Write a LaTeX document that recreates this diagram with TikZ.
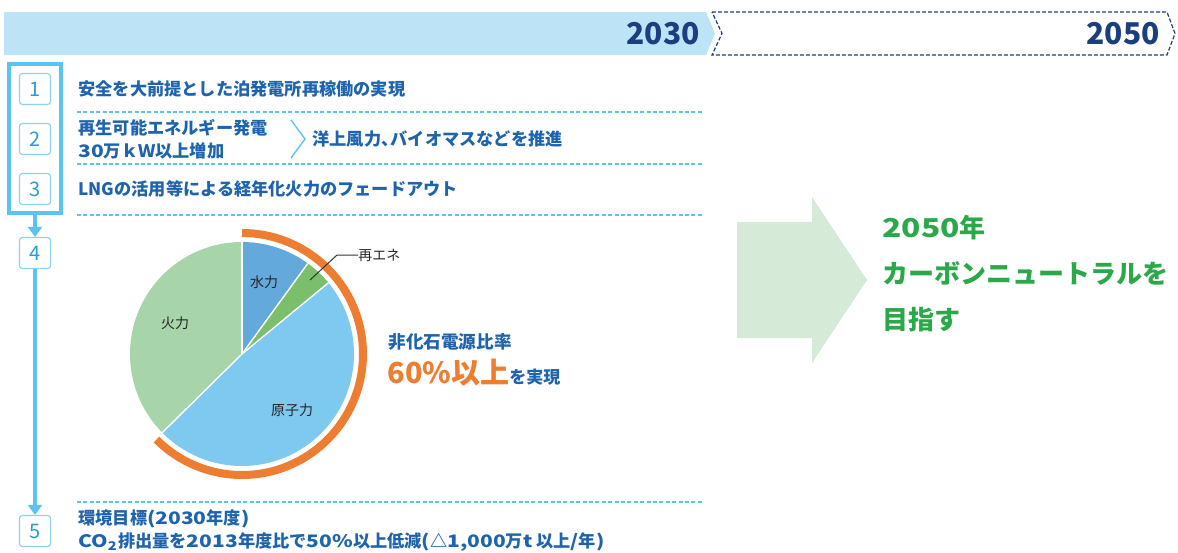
\documentclass[tikz,border=0pt]{standalone}
\usepackage{fontspec}
\usepackage{graphicx}
\setmainfont{Noto Sans CJK JP}
\newcommand\latn[1]{\scalebox{1.22}[1]{#1}}
\usetikzlibrary{arrows.meta}
\definecolor{barblue}{HTML}{BDE3F7}
\definecolor{navy}{HTML}{1B3F7E}
\definecolor{framecol}{HTML}{5BC3F0}
\definecolor{boxline}{HTML}{8ED2F4}
\definecolor{numblue}{HTML}{2A9BD8}
\definecolor{txtblue}{HTML}{1E63AD}
\definecolor{orng}{HTML}{ED7D31}
\definecolor{hydro}{HTML}{64A9DB}
\definecolor{renew}{HTML}{7BBE6C}
\definecolor{nuclear}{HTML}{7EC9F0}
\definecolor{thermal}{HTML}{A8D4AA}
\definecolor{arrgreen}{HTML}{D6EBD7}
\definecolor{goalgreen}{HTML}{2BA84A}

\begin{document}
\begin{tikzpicture}[x=0.5pt,y=-0.5pt,
  yr/.style={font=\fontsize{15}{16}\selectfont\bfseries, text=navy, inner sep=0pt, anchor=east},
  numbox/.style={draw=boxline, line width=0.6pt, fill=white, rounded corners=1.5pt, minimum width=15.5pt, minimum height=15.5pt, inner sep=0pt, text=numblue, font=\fontsize{10}{10}\selectfont},
  item/.style={font=\fontsize{8.6}{11.5}\selectfont\bfseries, text=txtblue, inner sep=0pt, anchor=west, align=left},
  sep/.style={draw=framecol, line width=0.6pt, dash pattern=on 2pt off 1.2pt},
  link/.style={draw=framecol, line width=2pt, -{Triangle[width=7pt,length=5pt]}},
  slice/.style={draw=white, line width=0.7pt},
  plabel/.style={font=\fontsize{7}{8}\selectfont, text=black!85, inner sep=0pt},
]
\useasboundingbox (0,0) rectangle (1178,552);

\fill[barblue] (4,12) -- (706,12) -- (715,33.5) -- (706,55) -- (4,55) -- cycle;
\draw[navy, line width=0.6pt, dash pattern=on 2pt off 1pt] (712,12) -- (1167,12) -- (1175,33.5) -- (1167,55) -- (712,55) -- (722,33.5) -- cycle;
\node[yr] (y2030) at (700,34) {2030};
\node[yr] (y2050) at (1160,34) {2050};

\draw[framecol, line width=2pt] (8.5,63.5) rectangle (60.5,213);
\coordinate (frameout) at (35,213);
\node[numbox] (n1) at (35,89) {1};
\node[numbox] (n2) at (35,139) {2};
\node[numbox] (n3) at (35,189) {3};
\node[numbox] (n4) at (35,253) {4};
\node[numbox] (n5) at (35,531) {5};
\draw[link] (frameout) -- (n4.north);
\draw[link] (n4.south) -- (n5.north);

\draw[sep] (77,112) -- (703,112);
\draw[sep] (77,164) -- (703,164);
\draw[sep] (77,215) -- (703,215);
\draw[sep] (77,502) -- (703,502);

\node[item] (t1) at (78,89) {安全を大前提とした泊発電所再稼働の実現};
\node[item] (t2) at (78,139) {再生可能エネルギー発電\\\latn{30}万ｋＷ以上増加};
\draw[framecol, line width=0.7pt] (291,120) -- (305,139) -- (291,158);
\node[item] (t2b) at (312,139) {洋上風力、\kern-0.45em バイオマスなどを推進};
\node[item] (t3) at (78,189) {LNGの活用等による経年化火力のフェードアウト};
\node[item] (t5) at (78,531) {環境目標\latn{(2030}年度\latn{)}\\\latn{CO\textsubscript{2}}排出量を\latn{2013}年度比で\latn{50\%}以上低減\latn{(}△\latn{1,000}万\latn{t} 以上\latn{/}年\latn{)}};

\coordinate (pc) at (242,354);
\fill[hydro] (pc) -- ++(90:56pt) arc[start angle=90, end angle=54, radius=56pt] -- cycle;
\fill[renew] (pc) -- ++(54:56pt) arc[start angle=54, end angle=39.5, radius=56pt] -- cycle;
\fill[nuclear] (pc) -- ++(39.5:56pt) arc[start angle=39.5, end angle=-135.4, radius=56pt] -- cycle;
\fill[thermal] (pc) -- ++(90:56pt) arc[start angle=90, end angle=224.6, radius=56pt] -- cycle;
\draw[slice] (pc) -- ++(90:56pt);
\draw[slice] (pc) -- ++(54:56pt);
\draw[slice] (pc) -- ++(39.5:56pt);
\draw[slice] (pc) -- ++(224.6:56pt);
\draw[orng, line width=4pt] ([shift={(90:60.5pt)}]pc) arc[start angle=90, end angle=-135, radius=60.5pt];

\node[plabel] (lhydro) at (264,282) {水力};
\node[plabel] (lthermal) at (175,323) {火力};
\node[plabel] (lnuclear) at (292,410) {原子力};
\node[plabel, anchor=west] (lrenew) at (358,255) {再エネ};
\coordinate (rpt) at (310,280);
\draw[black!80, line width=0.5pt] (rpt) -- (337,255) -- (lrenew.west);

\node[item, font=\fontsize{8.8}{10}\selectfont\bfseries] (ratio) at (388,342) {非化石電源比率};
\node[item, font=\fontsize{8.5}{10}\selectfont\bfseries] (ratioval) at (387,373) {{\color{orng}\fontsize{14.5}{16}\selectfont 60\%以上}を実現};

\fill[arrgreen] (737,222) -- (812,222) -- (812,197) -- (867,280) -- (812,363) -- (812,338) -- (737,338) -- cycle;
\node[anchor=west, align=left, inner sep=0pt, text=goalgreen, font=\fontsize{13}{23}\selectfont\bfseries] (goal) at (882,274) {\latn{2050}年\\カーボンニュートラルを\\目指す};
\end{tikzpicture}
\end{document}
